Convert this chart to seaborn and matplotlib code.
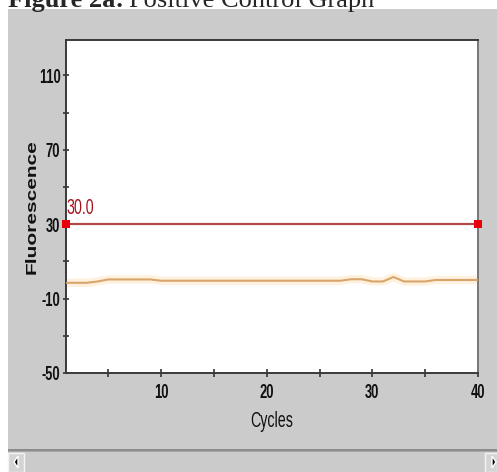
import matplotlib
matplotlib.use("Agg")
import matplotlib.pyplot as plt
from matplotlib import font_manager
from matplotlib.font_manager import FontProperties
from matplotlib.patches import Rectangle, Polygon
import numpy as np
import pandas as pd
import seaborn as sns

# ---- data ----
cycles = list(range(1, 41))
fluorescence = [-1.5, -1.5, -1.5, -0.8, 0.3, 0.3, 0.3, 0.3, 0.3, -0.4,
                -0.4, -0.4, -0.4, -0.4, -0.4, -0.4, -0.4, -0.4, -0.4, -0.4,
                -0.4, -0.4, -0.4, -0.4, -0.4, -0.4, -0.4, 0.4, 0.4, -0.8,
                -0.8, 1.6, -0.8, -0.8, -0.8, 0.0, 0.0, 0.0, 0.0, 0.0]
threshold_x = [1, 40]
threshold_y = [30.0, 30.0]
threshold_label = "30.0"
y_ticks_labeled = [110, 70, 30, -10, -50]
y_ticks_minor = [90, 50, 10, -30]
x_ticks_labeled = [10, 20, 30, 40]
x_ticks_minor = [5, 15, 25, 35]


# ---- build squeezed fonts (the reference screenshot is horizontally compressed) ----
def make_font(weight, sx, sy, newname, path):
    from fontTools.ttLib import TTFont
    from fontTools.ttLib.tables.ttProgram import Program
    src = font_manager.findfont(FontProperties(family="Liberation Sans", weight=weight))
    f = TTFont(src)
    glyf = f["glyf"]
    order = f.getGlyphOrder()
    for gname in order:
        g = glyf[gname]
        if g.isComposite():
            for c in g.components:
                c.x = int(round(c.x * sx))
                c.y = int(round(c.y * sy))
        elif g.numberOfContours > 0:
            coords = g.coordinates
            for i in range(len(coords)):
                x, y = coords[i]
                coords[i] = (int(round(x * sx)), int(round(y * sy)))
        if hasattr(g, "program"):
            p = Program()
            p.fromBytecode(b"")
            g.program = p
    for gname in order:
        g = glyf[gname]
        if g.numberOfContours != 0:
            g.recalcBounds(glyf)
    hmtx = f["hmtx"]
    for gname in list(hmtx.metrics.keys()):
        adv, lsb = hmtx.metrics[gname]
        g = glyf[gname]
        newlsb = g.xMin if (g.numberOfContours != 0 and hasattr(g, "xMin")) else int(round(lsb * sx))
        hmtx.metrics[gname] = (int(round(adv * sx)), newlsb)
    for t in ("fpgm", "prep", "cvt ", "hdmx", "LTSH", "VDMX", "kern"):
        if t in f:
            del f[t]
    for rec in f["name"].names:
        if rec.nameID in (1, 4, 16):
            rec.string = newname
        elif rec.nameID == 6:
            rec.string = newname.replace(" ", "")
    f.save(path)
    font_manager.fontManager.addfont(path)
    return newname


try:
    NARROW_B = make_font("bold", 0.62, 1.0, "SqueezeBold", "squeeze_bold.ttf")
    NARROW_R = make_font("normal", 0.64, 1.0, "SqueezeReg", "squeeze_reg.ttf")
    SHORT_B = make_font("bold", 1.0, 0.74, "ShortBold", "short_bold.ttf")
except Exception:
    NARROW_B = NARROW_R = SHORT_B = "Liberation Sans"

sns.set_style("white")

W, H = 497, 472
fig = plt.figure(figsize=(W / 100, H / 100), dpi=100, facecolor="white")


def px(x0, y0, w, h):
    return (x0 / W, 1 - (y0 + h) / H, w / W, h / H)


GRAY = "#cbcbcb"
fig.patches.append(Rectangle((8 / W, 0), 1 - 8 / W, 1 - 9 / H, transform=fig.transFigure,
                             facecolor=GRAY, edgecolor="none", zorder=-10))
fig.patches.append(Rectangle((8 / W, 1 - 451 / H), 1 - 8 / W, 2.5 / H, transform=fig.transFigure,
                             facecolor="#8c8c8c", edgecolor="none", zorder=-9))
fig.patches.append(Rectangle((8 / W, 1 - 452 / H), 1 - 8 / W, 1 / H, transform=fig.transFigure,
                             facecolor="#a8a8a8", edgecolor="none", zorder=-9))
for bx, bw in [(8, 16), (485, 12)]:
    fig.patches.append(Rectangle((bx / W, 0), bw / W, 1 - 453 / H, transform=fig.transFigure,
                                 facecolor="#d4d4d4", edgecolor="#f4f4f4", linewidth=1, zorder=-9))
fig.patches.append(Polygon([(14 / W, 1 - 462 / H), (18 / W, 1 - 456 / H), (18 / W, 1 - 468 / H)],
                           closed=True, transform=fig.transFigure, facecolor="black", zorder=-8))
fig.patches.append(Polygon([(496 / W, 1 - 462 / H), (492 / W, 1 - 456 / H), (492 / W, 1 - 468 / H)],
                           closed=True, transform=fig.transFigure, facecolor="black", zorder=-8))

# header text (cropped at top, as in the reference)
t1 = fig.text(8 / W, 1 - 7 / H, "Figure 2a:", fontsize=19, fontweight="bold",
              family="Liberation Serif", va="baseline", ha="left")
fig.canvas.draw()
bb = t1.get_window_extent()
fig.text((bb.x1 + 5) / W, 1 - 7 / H, "Positive Control Graph", fontsize=19,
         family="Liberation Serif", va="baseline", ha="left")

ax = fig.add_axes(px(66, 40, 412, 333))
ax.set_zorder(5)
ax.set_facecolor("white")

df = pd.DataFrame({"Cycles": cycles, "Fluorescence": fluorescence})
sns.lineplot(data=df, x="Cycles", y="Fluorescence", ax=ax, color="#fff1de",
             linewidth=6, zorder=2)
sns.lineplot(data=df, x="Cycles", y="Fluorescence", ax=ax, color="#d8a56c",
             linewidth=1.5, zorder=3)

tdf = pd.DataFrame({"x": threshold_x, "y": threshold_y})
sns.lineplot(data=tdf, x="x", y="y", ax=ax, color="#b5474b", linewidth=1.6, zorder=4)
ax.scatter(threshold_x, threshold_y, marker="s", s=32, color="#e8000a", zorder=5,
           clip_on=False, linewidths=0)
ax.text(threshold_x[0] + 0.02, threshold_y[0] + 3.0, threshold_label, color="#a8101c",
        fontsize=16, family=NARROW_R, ha="left", va="bottom", zorder=6)

ax.set_xlim(1, 40)
ax.set_ylim(-50, 129)

ax.set_yticks(y_ticks_labeled)
ax.set_yticklabels([str(v) for v in y_ticks_labeled])
ax.set_yticks(y_ticks_minor, minor=True)
ax.set_xticks(x_ticks_labeled)
ax.set_xticklabels([str(v) for v in x_ticks_labeled])
ax.set_xticks(x_ticks_minor, minor=True)

ax.tick_params(axis="y", which="both", direction="inout", length=4, width=1.2,
               color="#333333", labelsize=15, pad=2, left=True)
ax.tick_params(axis="x", which="both", direction="inout", length=6, width=1.2,
               color="#333333", labelsize=15, pad=4, bottom=True)
for lab in ax.get_xticklabels() + ax.get_yticklabels():
    lab.set_family(NARROW_B)
    lab.set_fontweight("bold")
    lab.set_color("#111111")

for s in ax.spines.values():
    s.set_visible(True)
    s.set_color("#3a3a3a")
    s.set_linewidth(1.4)
ax.spines["right"].set_color("#777777")

ax.set_xlabel("Cycles", fontsize=16, family=NARROW_R, color="#111111")
ax.xaxis.set_label_coords((272 - 66) / 412, (373 - 422) / 333)
ax.xaxis.label.set_va("center")
ax.set_ylabel("Fluorescence", fontsize=15, fontweight="bold", family=SHORT_B, color="#111111")
ax.yaxis.set_label_coords((32 - 66) / 412, (373 - 207) / 333)
ax.yaxis.label.set_va("center")

fig.savefig("out.png", dpi=100, facecolor="white")
